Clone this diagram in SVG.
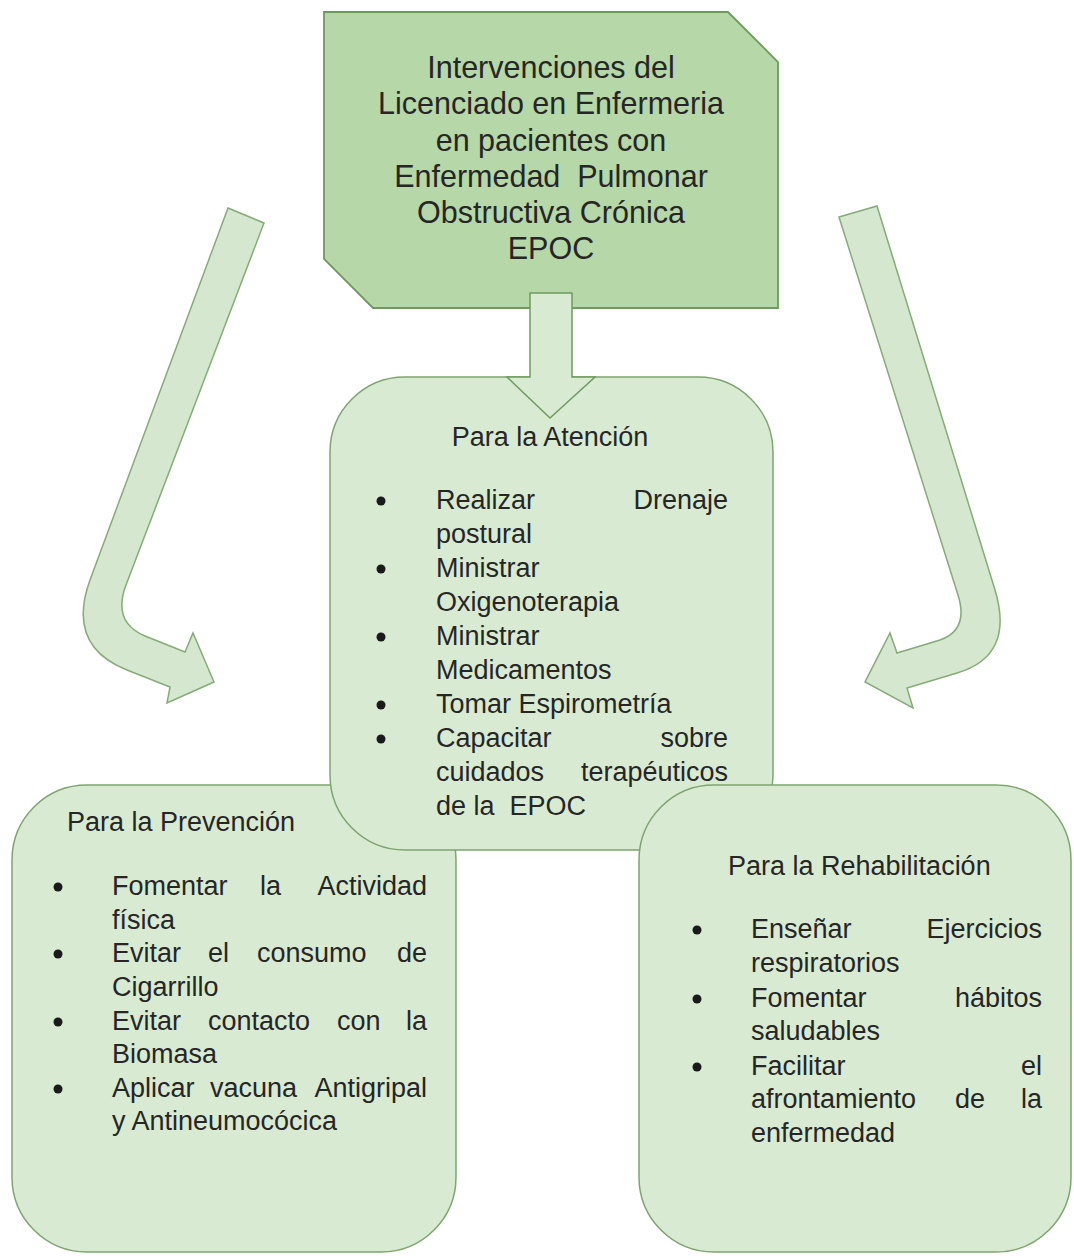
<svg xmlns="http://www.w3.org/2000/svg" width="1074" height="1256" viewBox="0 0 1074 1256">
<style>
text{font-family:"Liberation Sans",Arial,sans-serif;fill:#262626}
.t{font-size:30.5px;text-anchor:middle}
.b{font-size:27px}
.e{text-anchor:end}
.m{text-anchor:middle}
.box{fill:#d9ead3;stroke:#7ea46f;stroke-width:1.5}
.top{fill:#b6d7a8;stroke:#6f9a5e;stroke-width:1.8}
.arr{fill:#d5e8cf;stroke:#86ab78;stroke-width:1.5;stroke-linejoin:miter}
.dot{fill:#1a1a1a}
</style>
<rect width="1074" height="1256" fill="#ffffff"/>

<g id="connectors">
<path id="arrow-left" class="arr" d="M228,208 L264,223 L126,585 Q112,622 145,636 L185,652 L193,633 L214,682 L167,703 L170,687 L127,670 Q66,646 90,580 Z"/>
<path id="arrow-right" class="arr" d="M839,217 L877,206 L995,590 Q1015,656 957,673 L907,688 L913,708 L865,682 L890,633 L897,653 L940,640 Q969,630 958,595 Z"/>
</g>

<g id="node-top">
<path class="top" d="M324,12 L728,12 L778,62 L778,308 L373,308 L324,259 Z"/>
<text class="t" x="551" y="78">Intervenciones del</text>
<text class="t" x="551" y="114">Licenciado en Enfermeria</text>
<text class="t" x="551" y="151">en pacientes con</text>
<text class="t" x="551" y="187" xml:space="preserve">Enfermedad  Pulmonar</text>
<text class="t" x="551" y="223">Obstructiva Crónica</text>
<text class="t" x="551" y="259">EPOC</text>
</g>

<g id="node-prevencion">
<rect class="box" x="12" y="785" width="444" height="467" rx="75" ry="75"/>
<text class="b" x="67" y="831">Para la Prevención</text>
<circle class="dot" cx="58" cy="887" r="4.5"/>
<text class="b" x="112" y="895">Fomentar</text><text class="b" x="260" y="895">la</text><text class="b e" x="427" y="895">Actividad</text>
<text class="b" x="112" y="929">física</text>
<circle class="dot" cx="58" cy="954" r="4.5"/>
<text class="b" x="112" y="962">Evitar</text><text class="b" x="208" y="962">el</text><text class="b" x="257" y="962">consumo</text><text class="b e" x="427" y="962">de</text>
<text class="b" x="112" y="996">Cigarrillo</text>
<circle class="dot" cx="58" cy="1022" r="4.5"/>
<text class="b" x="112" y="1030">Evitar</text><text class="b" x="208" y="1030">contacto</text><text class="b" x="337" y="1030">con</text><text class="b e" x="427" y="1030">la</text>
<text class="b" x="112" y="1063">Biomasa</text>
<circle class="dot" cx="58" cy="1089" r="4.5"/>
<text class="b" x="112" y="1097">Aplicar</text><text class="b" x="210" y="1097">vacuna</text><text class="b e" x="427" y="1097">Antigripal</text>
<text class="b" x="112" y="1130">y Antineumocócica</text>
</g>

<g id="node-atencion">
<rect class="box" x="330" y="377" width="443" height="473" rx="75" ry="75"/>
<text class="b m" x="550" y="446">Para la Atención</text>
<circle class="dot" cx="381" cy="501" r="4.5"/>
<text class="b" x="436" y="509">Realizar</text><text class="b e" x="728" y="509">Drenaje</text>
<text class="b" x="436" y="543">postural</text>
<circle class="dot" cx="381" cy="569" r="4.5"/>
<text class="b" x="436" y="577">Ministrar</text>
<text class="b" x="436" y="611">Oxigenoterapia</text>
<circle class="dot" cx="381" cy="637" r="4.5"/>
<text class="b" x="436" y="645">Ministrar</text>
<text class="b" x="436" y="679">Medicamentos</text>
<circle class="dot" cx="381" cy="705" r="4.5"/>
<text class="b" x="436" y="713">Tomar Espirometría</text>
<circle class="dot" cx="381" cy="739" r="4.5"/>
<text class="b" x="436" y="747">Capacitar</text><text class="b e" x="728" y="747">sobre</text>
<text class="b" x="436" y="781">cuidados</text><text class="b e" x="728" y="781">terapéuticos</text>
<text class="b" x="436" y="815" xml:space="preserve">de la  EPOC</text>
</g>

<g id="node-rehabilitacion">
<rect class="box" x="639" y="785" width="432" height="467" rx="75" ry="75"/>
<text class="b" x="728" y="875">Para la Rehabilitación</text>
<circle class="dot" cx="697" cy="930" r="4.5"/>
<text class="b" x="751" y="938">Enseñar</text><text class="b e" x="1042" y="938">Ejercicios</text>
<text class="b" x="751" y="972">respiratorios</text>
<circle class="dot" cx="697" cy="999" r="4.5"/>
<text class="b" x="751" y="1007">Fomentar</text><text class="b e" x="1042" y="1007">hábitos</text>
<text class="b" x="751" y="1040">saludables</text>
<circle class="dot" cx="697" cy="1067" r="4.5"/>
<text class="b" x="751" y="1075">Facilitar</text><text class="b e" x="1042" y="1075">el</text>
<text class="b" x="751" y="1108">afrontamiento</text><text class="b" x="955" y="1108">de</text><text class="b e" x="1042" y="1108">la</text>
<text class="b" x="751" y="1142">enfermedad</text>
</g>

<g id="connector-down">
<path class="arr" style="fill:#d9ead3;stroke:#6f9a5e" d="M530,293 L572,293 L572,377 L595,377 L550,418 L507,377 L530,377 Z"/>
</g>
</svg>
